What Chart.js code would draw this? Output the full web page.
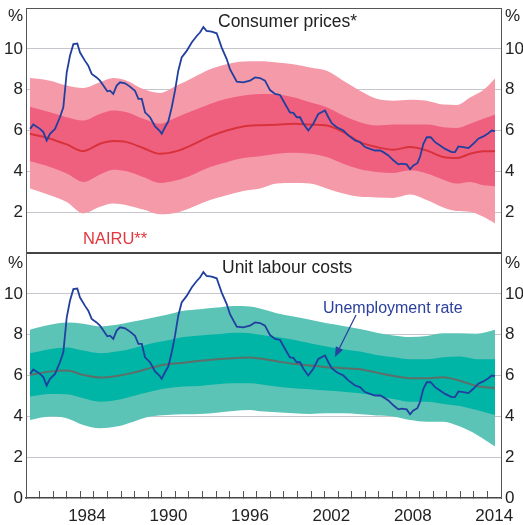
<!DOCTYPE html>
<html><head><meta charset="utf-8">
<script src="https://cdn.jsdelivr.net/npm/chart.js@4.4.1/dist/chart.umd.min.js"></script>
<style>
html,body{margin:0;padding:0;background:#fff;}
#wrap{position:relative;width:523px;height:525px;overflow:hidden;font-family:'Liberation Sans',Arial,sans-serif;}
canvas{position:absolute;left:0;}
.t{position:absolute;white-space:nowrap;line-height:1;color:#222;}
svg{position:absolute;left:0;top:0;}
</style></head><body>
<div id="wrap">
<canvas id="c1" width="523" height="253" style="top:0;width:523px;height:253px"></canvas>
<canvas id="c2" width="523" height="272" style="top:253px;width:523px;height:272px"></canvas>
<div class="t" style="left:8px;top:7px;font-size:17px">%</div>
<div class="t" style="left:505px;top:7px;font-size:17px">%</div>
<div class="t" style="left:8px;top:254px;font-size:17px">%</div>
<div class="t" style="left:505px;top:254px;font-size:17px">%</div>
<div class="t" style="left:218px;top:12.5px;font-size:17.5px">Consumer prices*</div>
<div class="t" style="left:222px;top:259px;font-size:17.5px">Unit labour costs</div>
<div class="t" style="left:83px;top:229.5px;font-size:16.5px;color:#e0383e">NAIRU**</div>
<div class="t" style="left:323px;top:299.5px;font-size:16px;color:#2a3f9e">Unemployment rate</div>
<svg width="523" height="525"><line x1="356" y1="315" x2="339.5" y2="348" stroke="#2a3f9e" stroke-width="1.3"/><polygon points="335,357 343,349.8 335.8,346.3" fill="#2a3f9e"/></svg>
</div>
<script>
// ---- Data ----
const labelYears = [1984, 1990, 1996, 2002, 2008, 2014];

const unempDates = [1980.3,1980.54,1981.03,1981.28,1981.52,1981.77,1982.14,1982.5,1982.75,1983.0,1983.24,1983.49,1983.78,1983.98,1984.35,1984.59,1984.84,1985.2,1985.45,1985.7,1985.99,1986.19,1986.43,1986.68,1986.93,1987.3,1987.66,1988.03,1988.28,1988.53,1988.77,1989.14,1989.51,1989.83,1990.0,1990.24,1990.49,1990.74,1990.98,1991.22,1991.47,1991.84,1992.21,1992.58,1992.82,1993.07,1993.3,1993.68,1994.05,1994.42,1994.79,1995.03,1995.53,1996.01,1996.5,1996.88,1997.24,1997.61,1997.98,1998.35,1998.72,1999.09,1999.45,1999.7,1999.95,2000.19,2000.44,2000.8,2001.17,2001.54,2002.03,2002.28,2002.53,2002.9,2003.39,2003.75,2004.25,2004.61,2004.98,2005.35,2005.72,2006.09,2006.33,2006.7,2007.07,2007.44,2007.69,2008.05,2008.3,2008.54,2008.84,2009.03,2009.28,2009.53,2009.82,2010.14,2010.51,2010.88,2011.37,2011.61,2011.86,2012.23,2012.6,2012.96,2013.33,2013.7,2014.07,2014.32,2014.56];
const unempRate = [6.08,6.29,6.08,5.92,5.51,5.84,6.08,6.65,7.14,8.84,9.66,10.23,10.26,9.82,9.41,9.17,8.77,8.6,8.44,8.2,7.92,7.95,7.79,8.2,8.36,8.31,8.15,7.95,7.55,7.55,6.89,6.65,6.2,6.0,5.84,6.16,6.45,7.14,7.95,8.93,9.58,9.9,10.31,10.63,10.8,11.07,10.88,10.84,10.76,10.06,9.5,9.0,8.39,8.36,8.44,8.6,8.57,8.44,7.98,7.79,7.74,7.3,6.89,6.86,6.65,6.65,6.33,6.0,6.33,6.81,6.98,6.65,6.36,6.16,6.0,5.76,5.51,5.43,5.19,5.1,5.02,5.02,4.94,4.78,4.54,4.34,4.38,4.34,4.1,4.29,4.4,4.7,5.35,5.67,5.67,5.43,5.27,5.1,4.94,4.94,5.22,5.19,5.14,5.35,5.6,5.71,5.87,6.0,5.97];

// Consumer prices NAIRU estimate and bands
const cpiDates = [1980.29,1981.77,1983.0,1984.22,1985.45,1986.43,1987.42,1988.64,1989.87,1991.1,1992.33,1993.56,1994.79,1996.01,1997.24,1998.47,1999.7,2000.93,2002.16,2003.38,2004.61,2005.84,2007.07,2008.3,2009.53,2010.75,2011.74,2012.72,2013.7,2014.56];
const cpiOuterHigh = [8.57,8.44,8.2,8.08,8.36,8.57,8.44,8.03,7.84,8.2,8.6,9.0,9.25,9.38,9.39,9.33,9.25,9.09,8.93,8.44,7.95,7.55,7.46,7.51,7.46,7.27,7.25,7.62,7.98,8.55];
const cpiInnerHigh = [7.17,6.89,6.65,6.49,6.81,6.98,6.89,6.57,6.33,6.65,6.98,7.3,7.55,7.71,7.79,7.76,7.63,7.38,7.14,6.73,6.4,6.24,6.29,6.29,6.29,6.16,6.12,6.33,6.57,6.78];
const cpiNairu = [5.84,5.6,5.32,4.99,5.35,5.48,5.43,5.14,4.86,4.99,5.32,5.71,6.0,6.2,6.26,6.28,6.33,6.29,6.24,5.92,5.43,5.19,5.06,5.19,5.02,4.7,4.65,4.86,4.98,4.99];
const cpiInnerLow = [4.49,4.21,3.89,3.48,3.85,4.08,4.0,3.72,3.43,3.56,3.85,4.21,4.45,4.65,4.74,4.86,4.91,4.86,4.7,4.37,4.1,3.97,3.92,4.05,3.89,3.59,3.4,3.48,3.32,3.27];
const cpiOuterLow = [3.16,2.83,2.5,1.94,2.26,2.42,2.34,2.13,1.9,1.97,2.26,2.59,2.83,3.04,3.16,3.4,3.43,3.4,3.16,2.91,2.75,2.72,2.7,2.86,2.59,2.23,2.06,2.02,1.77,1.45];

// Unit labour costs NAIRU estimate and bands
const ulcDates = [1980.29,1981.77,1983.0,1984.22,1985.45,1986.68,1987.91,1989.14,1990.37,1991.59,1992.82,1994.05,1995.28,1996.51,1997.24,1998.47,1999.7,2000.93,2002.16,2003.38,2004.61,2005.84,2007.07,2008.3,2009.53,2010.75,2011.98,2013.21,2014.56];
const ulcOuterHigh = [8.24,8.48,8.59,8.53,8.4,8.48,8.64,8.81,8.97,9.17,9.25,9.33,9.41,9.38,9.28,9.05,8.89,8.73,8.56,8.43,8.28,8.1,7.96,7.88,7.94,8.07,8.07,8.05,8.24];
const ulcInnerHigh = [7.09,7.29,7.37,7.22,7.09,7.17,7.34,7.55,7.71,7.88,7.96,8.02,8.1,8.07,8.0,7.88,7.75,7.58,7.42,7.29,7.17,7.01,6.9,6.8,6.8,6.9,6.93,6.8,6.8];
const ulcNairu = [6.03,6.19,6.24,6.03,5.9,5.98,6.14,6.36,6.55,6.63,6.72,6.8,6.85,6.88,6.83,6.7,6.57,6.49,6.41,6.36,6.31,6.14,5.98,5.87,5.87,5.92,5.74,5.49,5.38];
const ulcInnerLow = [4.97,5.1,5.08,4.89,4.72,4.8,5.0,5.21,5.38,5.46,5.49,5.57,5.62,5.62,5.57,5.46,5.38,5.33,5.26,5.21,5.13,5.0,4.85,4.72,4.72,4.61,4.51,4.31,4.07];
const ulcOuterLow = [3.82,3.99,3.91,3.58,3.42,3.5,3.74,3.99,4.07,4.1,4.12,4.18,4.26,4.31,4.25,4.2,4.15,4.12,4.15,4.15,4.1,4.04,3.99,3.82,3.74,3.74,3.5,3.1,2.52];

// ---- Chart building ----
const FONT = "'Liberation Sans', Arial, sans-serif";
const pts = (d, v) => d.map((x, i) => ({x: x, y: v[i]}));

function datasets(dates, oL, iL, c, iH, oH, cols) {
  const band = {pointRadius: 0, borderWidth: 0, tension: 0.4, cubicInterpolationMode: 'monotone'};
  return [
    {data: pts(unempDates, unempRate), borderColor: '#213f9f', borderWidth: 1.8, pointRadius: 0, tension: 0, fill: false, order: 0},
    {data: pts(dates, c), borderColor: cols.line, borderWidth: 2, pointRadius: 0, tension: 0.4, cubicInterpolationMode: 'monotone', fill: false, order: 1},
    Object.assign({data: pts(dates, iL), fill: false, order: 2}, band),
    Object.assign({data: pts(dates, iH), fill: 2, backgroundColor: cols.inner, order: 2}, band),
    Object.assign({data: pts(dates, oL), fill: false, order: 3}, band),
    Object.assign({data: pts(dates, oH), fill: 4, backgroundColor: cols.outer, order: 3}, band)
  ];
}

function yScale(pos, isTop) {
  return {
    position: pos, min: 0, max: 12,
    afterBuildTicks: s => { s.ticks = [0,2,4,6,8,10,12].map(v => ({value: v})); },
    ticks: {
      padding: pos === 'left' ? 3 : 4, color: '#222', font: {family: FONT, size: 17},
      callback: v => (v === 12 || (isTop && v === 0)) ? '' : String(v)
    },
    grid: pos === 'left' ? {
      drawTicks: false,
      color: ctx => {
        const v = ctx.tick.value;
        if (v === 12) return isTop ? '#555' : '#444';
        if (v === 0) return isTop ? '#444' : 'rgba(0,0,0,0)';
        return '#c6c6cc';
      },
      lineWidth: ctx => {
        const v = ctx.tick.value;
        if (v === 12) return isTop ? 1 : 2;
        if (v === 0) return isTop ? 2 : 1;
        return 1;
      }
    } : {drawTicks: false, drawOnChartArea: false},
    border: {display: true, color: '#555', width: 1},
    afterFit: s => { s.width = pos === 'left' ? 26 : 22; s.paddingTop = 0; s.paddingBottom = 0; }
  };
}

function xScale(isTop) {
  if (isTop) return {type: 'linear', min: 1980, max: 2015, display: false};
  return {
    type: 'linear', min: 1980, max: 2015, position: 'bottom',
    afterBuildTicks: s => {
      const t = [];
      for (let y = 1980.5; y < 2015; y += 0.5) t.push({value: y});
      s.ticks = t;
    },
    ticks: {
      autoSkip: false, maxRotation: 0, minRotation: 0, padding: 15,
      color: '#222', font: {family: FONT, size: 17},
      callback: v => {
        const y = v - 0.5;
        return labelYears.some(l => Math.abs(l - y) < 1e-6) ? String(Math.round(y)) : '';
      }
    },
    grid: {
      drawOnChartArea: false, drawTicks: true, tickLength: -7, tickWidth: 1,
      tickColor: ctx => Number.isInteger(ctx.tick.value) ? '#555' : 'rgba(0,0,0,0)'
    },
    border: {display: true, color: '#444', width: 1.5},
    afterFit: s => { s.height = 27; s.paddingLeft = 0; s.paddingRight = 0; }
  };
}

function make(id, isTop, ds) {
  new Chart(document.getElementById(id), {
    type: 'line',
    data: {datasets: ds},
    options: {
      responsive: false, animation: false, devicePixelRatio: 1,
      layout: {autoPadding: false, padding: {top: isTop ? 8 : 0, left: 0, right: 0, bottom: 0}},
      plugins: {legend: {display: false}, tooltip: {enabled: false}},
      scales: {x: xScale(isTop), y: yScale('left', isTop), y2: yScale('right', isTop)}
    }
  });
}

make('c1', true, datasets(cpiDates, cpiOuterLow, cpiInnerLow, cpiNairu, cpiInnerHigh, cpiOuterHigh,
  {outer: '#f59aa9', inner: '#ef607f', line: '#d8323c'}));
make('c2', false, datasets(ulcDates, ulcOuterLow, ulcInnerLow, ulcNairu, ulcInnerHigh, ulcOuterHigh,
  {outer: '#5cc4b7', inner: '#00b4a6', line: '#5e6e68'}));
</script>
</body></html>
